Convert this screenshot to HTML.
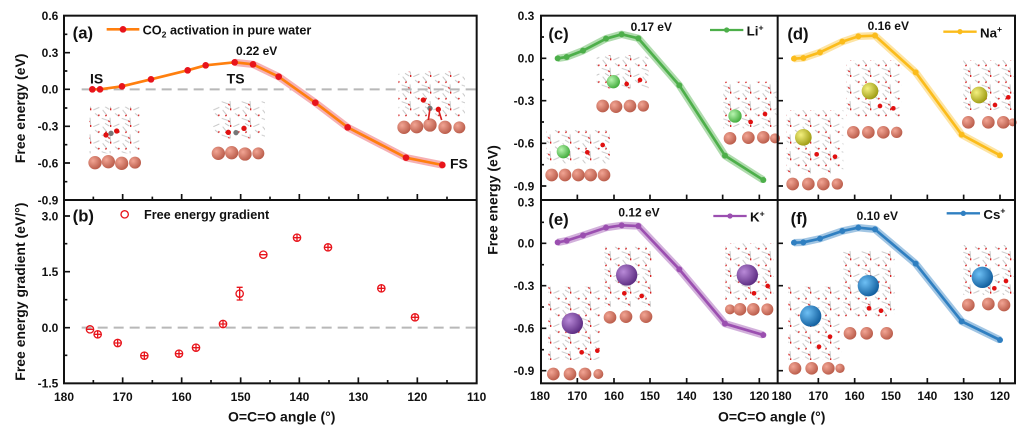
<!DOCTYPE html>
<html><head><meta charset="utf-8"><style>
html,body{margin:0;padding:0;background:#fff;}
svg{display:block;}
text{font-family:"Liberation Sans",Arial,sans-serif;font-weight:bold;fill:#111;}
</style></head><body>
<svg width="1028" height="433" viewBox="0 0 1028 433" xmlns="http://www.w3.org/2000/svg">
<defs>
<pattern id="w" width="60" height="50" patternUnits="userSpaceOnUse">
<path d="M5 5 L25 12 M30 3 L32 25 M40 30 L58 22 M8 30 L20 45 M45 40 L55 48 M15 20 L28 28" stroke="#c8c8c8" stroke-width="3"/>
<path d="M25 12 L29 16 M32 25 L32 31 M20 45 L16 48 M55 48 L58 44" stroke="#d62020" stroke-width="4"/>
</pattern>
<radialGradient id="cu" cx="35%" cy="35%" r="70%"><stop offset="0" stop-color="#f2a594"/><stop offset="1" stop-color="#b85a48"/></radialGradient>
<radialGradient id="li" cx="35%" cy="35%" r="70%"><stop offset="0" stop-color="#b8f5b0"/><stop offset="1" stop-color="#3faa3a"/></radialGradient>
<radialGradient id="na" cx="35%" cy="35%" r="70%"><stop offset="0" stop-color="#f4f080"/><stop offset="1" stop-color="#9c9a10"/></radialGradient>
<radialGradient id="k" cx="35%" cy="35%" r="70%"><stop offset="0" stop-color="#b98ad8"/><stop offset="1" stop-color="#5a2a80"/></radialGradient>
<radialGradient id="cs" cx="35%" cy="35%" r="70%"><stop offset="0" stop-color="#6ec0f5"/><stop offset="1" stop-color="#0f5c9c"/></radialGradient>
</defs>
<g transform="scale(0.333333)">
<!-- ============ LEFT PANELS ============ -->
<!-- insets a -->
<g>
<rect x="268" y="320" width="150" height="140" fill="url(#w)"/>
<g fill="url(#cu)"><circle cx="285" cy="488" r="20"/><circle cx="325" cy="485" r="20"/><circle cx="365" cy="490" r="20"/><circle cx="405" cy="488" r="18"/></g>
<circle cx="318" cy="405" r="8" fill="#e01010"/><circle cx="333" cy="400" r="8" fill="#777"/><circle cx="350" cy="393" r="8" fill="#e01010"/>
<rect x="635" y="300" width="160" height="115" fill="url(#w)"/>
<g fill="url(#cu)"><circle cx="655" cy="460" r="20"/><circle cx="695" cy="458" r="20"/><circle cx="735" cy="462" r="20"/><circle cx="775" cy="460" r="18"/></g>
<circle cx="685" cy="397" r="8" fill="#e01010"/><circle cx="708" cy="398" r="8" fill="#777"/><circle cx="732" cy="385" r="8" fill="#e01010"/>
<rect x="1195" y="215" width="200" height="135" fill="url(#w)"/>
<g fill="url(#cu)"><circle cx="1212" cy="382" r="20"/><circle cx="1250" cy="380" r="20"/><circle cx="1290" cy="375" r="20"/><circle cx="1335" cy="382" r="20"/><circle cx="1378" cy="382" r="18"/></g>
<circle cx="1270" cy="300" r="8" fill="#e01010"/><circle cx="1290" cy="325" r="8" fill="#777"/><circle cx="1315" cy="328" r="8" fill="#e01010"/>
<path d="M1290 325 L1285 360 M1315 328 L1325 360" stroke="#d62020" stroke-width="5"/>
</g>
<!-- zero dashed lines -->
<line x1="245" y1="268" x2="1430" y2="268" stroke="#b8b8b8" stroke-width="6" stroke-dasharray="30,18"/>
<line x1="245" y1="983" x2="1430" y2="983" stroke="#b8b8b8" stroke-width="6" stroke-dasharray="30,18"/>
<!-- curve a -->
<polyline fill="none" stroke="#f5b0b4" stroke-width="22" stroke-linejoin="round" points="704,187 759,193 836,230 946,308 1043,382 1218,473 1327,495"/>
<polyline fill="none" stroke="#ff7f0e" stroke-width="8" stroke-linejoin="round" points="277,268 300,268 366,259 453,238 563,211 617,196 704,187 759,193 836,230 946,308 1043,382 1218,473 1327,495"/>
<g fill="#e8141b"><circle cx="277" cy="268" r="10"/><circle cx="300" cy="268" r="10"/><circle cx="366" cy="259" r="10"/><circle cx="453" cy="238" r="10"/><circle cx="563" cy="211" r="10"/><circle cx="617" cy="196" r="10"/><circle cx="704" cy="187" r="10"/><circle cx="759" cy="193" r="10"/><circle cx="836" cy="230" r="10"/><circle cx="946" cy="308" r="10"/><circle cx="1043" cy="382" r="10"/><circle cx="1218" cy="473" r="10"/><circle cx="1327" cy="495" r="10"/></g>
<text x="270" y="250" font-size="42">IS</text>
<text x="680" y="250" font-size="42">TS</text>
<text x="1350" y="505" font-size="42">FS</text>
<text x="708" y="165" font-size="36">0.22 eV</text>
<text x="218" y="115" font-size="50">(a)</text>
<line x1="320" y1="88" x2="418" y2="88" stroke="#ff7f0e" stroke-width="8"/><circle cx="369" cy="88" r="10" fill="#e8141b"/>
<text x="428" y="103" font-size="38">CO<tspan font-size="26" dy="10">2</tspan><tspan dy="-10"> activation in pure water</tspan></text>
<!-- b markers -->
<g fill="none" stroke="#e8141b" stroke-width="4">
<g id="pts">
<circle cx="270" cy="988" r="11"/><circle cx="293" cy="1003" r="11"/><circle cx="353" cy="1029" r="11"/><circle cx="433" cy="1067" r="11"/><circle cx="537" cy="1061" r="11"/><circle cx="588" cy="1043" r="11"/><circle cx="669" cy="972" r="11"/><circle cx="719" cy="881" r="11"/><circle cx="790" cy="764" r="11"/><circle cx="891" cy="713" r="11"/><circle cx="984" cy="742" r="11"/><circle cx="1144" cy="865" r="11"/><circle cx="1245" cy="952" r="11"/>
</g>
<path d="M259 988h22M282 1003h22M342 1029h22M422 1067h22M526 1061h22M577 1043h22M658 972h22M779 764h22M880 713h22M973 742h22M1133 865h22M1234 952h22 M293 992v22M353 1018v22M433 1056v22M537 1050v22M588 1032v22M669 961v22M891 702v22M984 731v22M1144 854v22M1245 941v22 M719 862v38M710 862h18M710 900h18"/>
</g>
<text x="218" y="665" font-size="50">(b)</text>
<circle cx="374" cy="643" r="11" fill="none" stroke="#e8141b" stroke-width="4"/>
<text x="432" y="657" font-size="38">Free energy gradient</text>
<!-- frame left -->
<rect x="192" y="47" width="1238" height="1103" fill="none" stroke="#111" stroke-width="6"/>
<line x1="192" y1="600" x2="1430" y2="600" stroke="#111" stroke-width="6"/>
<g stroke="#111" stroke-width="5">
<path d="M192 158h18M192 268h18M192 379h18M192 489h18M192 103h10M192 213h10M192 324h10M192 434h10M192 545h10"/>
<path d="M192 648h18M192 815h18M192 983h18M192 731h10M192 899h10M192 1066h10"/>
<path d="M368 1150v-18M545 1150v-18M722 1150v-18M898 1150v-18M1075 1150v-18M1252 1150v-18 M280 1150v-10M457 1150v-10M633 1150v-10M810 1150v-10M987 1150v-10M1163 1150v-10M1341 1150v-10"/>
<path d="M368 600v-18M545 600v-18M722 600v-18M898 600v-18M1075 600v-18M1252 600v-18 M280 600v-10M457 600v-10M633 600v-10M810 600v-10M987 600v-10M1163 600v-10M1341 600v-10"/>
</g>
<g font-size="36" text-anchor="end">
<text x="175" y="60">0.6</text><text x="175" y="171">0.3</text><text x="175" y="281">0.0</text><text x="175" y="392">-0.3</text><text x="175" y="502">-0.6</text><text x="175" y="613">-0.9</text>
<text x="175" y="661">3.0</text><text x="175" y="828">1.5</text><text x="175" y="996">0.0</text><text x="175" y="1163">-1.5</text>
</g>
<g font-size="36" text-anchor="middle">
<text x="192" y="1203">180</text><text x="368" y="1203">170</text><text x="545" y="1203">160</text><text x="722" y="1203">150</text><text x="898" y="1203">140</text><text x="1075" y="1203">130</text><text x="1252" y="1203">120</text><text x="1430" y="1203">110</text>
</g>
<text x="845" y="1265" font-size="42" text-anchor="middle">O=C=O angle (°)</text>
<text transform="translate(75 325) rotate(-90)" font-size="42" text-anchor="middle">Free energy (eV)</text>
<text transform="translate(75 875) rotate(-90)" font-size="42" text-anchor="middle">Free energy gradient (eV/°)</text>

<!-- ============ RIGHT PANELS ============ -->
<g transform="translate(1500 0)">
<!-- insets -->
<g>
<rect x="290" y="165" width="155" height="100" fill="url(#w)"/><rect x="670" y="245" width="160" height="140" fill="url(#w)"/><rect x="140" y="390" width="190" height="100" fill="url(#w)"/>
<rect x="1040" y="180" width="165" height="170" fill="url(#w)"/><rect x="1390" y="180" width="155" height="150" fill="url(#w)"/><rect x="860" y="330" width="170" height="190" fill="url(#w)"/>
<rect x="313" y="740" width="147" height="180" fill="url(#w)"/><rect x="676" y="730" width="146" height="170" fill="url(#w)"/><rect x="145" y="860" width="158" height="220" fill="url(#w)"/>
<rect x="1030" y="750" width="155" height="200" fill="url(#w)"/><rect x="1390" y="735" width="155" height="150" fill="url(#w)"/><rect x="865" y="860" width="160" height="220" fill="url(#w)"/>
<g fill="url(#cu)">
<circle cx="308" cy="318" r="19"/><circle cx="348" cy="320" r="19"/><circle cx="390" cy="318" r="19"/><circle cx="430" cy="318" r="17"/>
<circle cx="690" cy="415" r="19"/><circle cx="745" cy="413" r="19"/><circle cx="790" cy="412" r="19"/><circle cx="825" cy="415" r="15"/>
<circle cx="155" cy="525" r="19"/><circle cx="195" cy="525" r="19"/><circle cx="235" cy="525" r="19"/><circle cx="272" cy="525" r="19"/><circle cx="312" cy="525" r="19"/>
<circle cx="1060" cy="397" r="19"/><circle cx="1105" cy="397" r="19"/><circle cx="1150" cy="397" r="19"/><circle cx="1190" cy="397" r="17"/>
<circle cx="1405" cy="367" r="19"/><circle cx="1465" cy="367" r="19"/><circle cx="1510" cy="367" r="19"/><circle cx="1538" cy="367" r="12"/>
<circle cx="878" cy="552" r="19"/><circle cx="925" cy="552" r="19"/><circle cx="970" cy="552" r="19"/><circle cx="1012" cy="552" r="17"/>
<circle cx="330" cy="952" r="19"/><circle cx="378" cy="950" r="19"/><circle cx="438" cy="950" r="19"/>
<circle cx="690" cy="928" r="15"/><circle cx="720" cy="928" r="19"/><circle cx="760" cy="928" r="19"/><circle cx="802" cy="928" r="18"/>
<circle cx="160" cy="1122" r="19"/><circle cx="210" cy="1122" r="19"/><circle cx="255" cy="1122" r="19"/><circle cx="295" cy="1122" r="15"/>
<circle cx="1050" cy="1000" r="19"/><circle cx="1100" cy="1000" r="19"/><circle cx="1160" cy="1000" r="19"/>
<circle cx="1405" cy="915" r="19"/><circle cx="1465" cy="912" r="19"/><circle cx="1512" cy="915" r="19"/>
<circle cx="885" cy="1105" r="19"/><circle cx="935" cy="1105" r="19"/><circle cx="985" cy="1105" r="19"/><circle cx="1020" cy="1105" r="14"/>
</g>
<g fill="url(#li)"><circle cx="340" cy="245" r="20"/><circle cx="705" cy="348" r="20"/><circle cx="190" cy="455" r="20"/></g>
<g fill="url(#na)"><circle cx="1110" cy="273" r="25"/><circle cx="1437" cy="285" r="25"/><circle cx="910" cy="412" r="25"/></g>
<g fill="url(#k)"><circle cx="380" cy="825" r="32"/><circle cx="742" cy="825" r="32"/><circle cx="217" cy="970" r="32"/></g>
<g fill="url(#cs)"><circle cx="1105" cy="857" r="32"/><circle cx="1447" cy="832" r="32"/><circle cx="932" cy="948" r="32"/></g>
<g fill="#e01010"><circle cx="380" cy="252" r="7"/><circle cx="420" cy="240" r="7"/><circle cx="262" cy="457" r="7"/><circle cx="308" cy="435" r="7"/><circle cx="752" cy="366" r="7"/><circle cx="795" cy="342" r="7"/><circle cx="1140" cy="318" r="7"/><circle cx="1180" cy="325" r="7"/><circle cx="950" cy="463" r="7"/><circle cx="1005" cy="470" r="7"/><circle cx="1485" cy="315" r="7"/><circle cx="1525" cy="292" r="7"/><circle cx="373" cy="880" r="7"/><circle cx="425" cy="888" r="7"/><circle cx="762" cy="880" r="7"/><circle cx="803" cy="858" r="7"/><circle cx="245" cy="1057" r="7"/><circle cx="292" cy="1052" r="7"/><circle cx="1107" cy="925" r="7"/><circle cx="1143" cy="932" r="7"/><circle cx="1483" cy="865" r="7"/><circle cx="1518" cy="843" r="7"/><circle cx="957" cy="1040" r="7"/><circle cx="990" cy="1010" r="7"/></g>
</g>
<!-- curves -->
<g fill="none" stroke-linejoin="round">
<polyline stroke="#4daf4a" stroke-opacity="0.45" stroke-width="22" points="173,175 200,171 249,152 318,116 365,103 415,115 538,256 675,467 790,540"/>
<polyline stroke="#4daf4a" stroke-width="8" points="173,175 200,171 249,152 318,116 365,103 415,115 538,256 675,467 790,540"/>
<polyline stroke="#fbbc1b" stroke-opacity="0.4" stroke-width="22" points="882,176 910,174 960,157 1027,125 1075,109 1125,107 1247,217 1385,404 1500,466"/>
<polyline stroke="#fbbc1b" stroke-width="8" points="882,176 910,174 960,157 1027,125 1075,109 1125,107 1247,217 1385,404 1500,466"/>
<polyline stroke="#9b4fb0" stroke-opacity="0.45" stroke-width="22" points="173,727 200,722 249,706 318,683 365,676 415,678 538,808 675,971 790,1005"/>
<polyline stroke="#9b4fb0" stroke-width="8" points="173,727 200,722 249,706 318,683 365,676 415,678 538,808 675,971 790,1005"/>
<polyline stroke="#2f7fc1" stroke-opacity="0.45" stroke-width="22" points="882,728 910,727 960,716 1027,693 1075,683 1125,688 1247,791 1385,964 1500,1020"/>
<polyline stroke="#2f7fc1" stroke-width="8" points="882,728 910,727 960,716 1027,693 1075,683 1125,688 1247,791 1385,964 1500,1020"/>
</g>
<g fill="#4daf4a"><circle cx="173" cy="175" r="9"/><circle cx="200" cy="171" r="9"/><circle cx="249" cy="152" r="9"/><circle cx="318" cy="116" r="9"/><circle cx="365" cy="103" r="9"/><circle cx="415" cy="115" r="9"/><circle cx="538" cy="256" r="9"/><circle cx="675" cy="467" r="9"/><circle cx="790" cy="540" r="9"/></g>
<g fill="#fbbc1b"><circle cx="882" cy="176" r="9"/><circle cx="910" cy="174" r="9"/><circle cx="960" cy="157" r="9"/><circle cx="1027" cy="125" r="9"/><circle cx="1075" cy="109" r="9"/><circle cx="1125" cy="107" r="9"/><circle cx="1247" cy="217" r="9"/><circle cx="1385" cy="404" r="9"/><circle cx="1500" cy="466" r="9"/></g>
<g fill="#9b4fb0"><circle cx="173" cy="727" r="9"/><circle cx="200" cy="722" r="9"/><circle cx="249" cy="706" r="9"/><circle cx="318" cy="683" r="9"/><circle cx="365" cy="676" r="9"/><circle cx="415" cy="678" r="9"/><circle cx="538" cy="808" r="9"/><circle cx="675" cy="971" r="9"/><circle cx="790" cy="1005" r="9"/></g>
<g fill="#2f7fc1"><circle cx="882" cy="728" r="9"/><circle cx="910" cy="727" r="9"/><circle cx="960" cy="716" r="9"/><circle cx="1027" cy="693" r="9"/><circle cx="1075" cy="683" r="9"/><circle cx="1125" cy="688" r="9"/><circle cx="1247" cy="791" r="9"/><circle cx="1385" cy="964" r="9"/><circle cx="1500" cy="1020" r="9"/></g>
<!-- labels -->
<g font-size="50"><text x="145" y="118">(c)</text><text x="862" y="118">(d)</text><text x="145" y="675">(e)</text><text x="872" y="672">(f)</text></g>
<g font-size="36"><text x="392" y="93">0.17 eV</text><text x="1103" y="90">0.16 eV</text><text x="355" y="650">0.12 eV</text><text x="1070" y="660">0.10 eV</text></g>
<line x1="630" y1="90" x2="730" y2="90" stroke="#4daf4a" stroke-width="7"/><circle cx="680" cy="90" r="8" fill="#4daf4a"/>
<text x="740" y="107" font-size="40">Li<tspan font-size="26" dy="-16">+</tspan></text>
<line x1="1330" y1="95" x2="1430" y2="95" stroke="#fbbc1b" stroke-width="7"/><circle cx="1380" cy="95" r="8" fill="#fbbc1b"/>
<text x="1440" y="112" font-size="40">Na<tspan font-size="26" dy="-16">+</tspan></text>
<line x1="640" y1="648" x2="740" y2="648" stroke="#9b4fb0" stroke-width="7"/><circle cx="690" cy="648" r="8" fill="#9b4fb0"/>
<text x="750" y="665" font-size="40">K<tspan font-size="26" dy="-16">+</tspan></text>
<line x1="1340" y1="640" x2="1440" y2="640" stroke="#2f7fc1" stroke-width="7"/><circle cx="1390" cy="640" r="8" fill="#2f7fc1"/>
<text x="1450" y="657" font-size="40">Cs<tspan font-size="26" dy="-16">+</tspan></text>
<!-- frames -->
<g fill="none" stroke="#111" stroke-width="6">
<rect x="123" y="47" width="1422" height="1103"/>
<line x1="833" y1="47" x2="833" y2="1150"/>
<line x1="123" y1="600" x2="1545" y2="600"/>
</g>
<g stroke="#111" stroke-width="5">
<path d="M123 175h16M123 302h16M123 430h16M123 558h16M123 111h9M123 239h9M123 366h9M123 494h9"/>
<path d="M123 730h16M123 857h16M123 985h16M123 1112h16M123 667h9M123 794h9M123 921h9M123 1049h9"/>
<path d="M833 175h16M833 302h16M833 430h16M833 558h16M833 730h16M833 857h16M833 985h16M833 1112h16"/>
<path d="M232 1150v-16M342 1150v-16M450 1150v-16M560 1150v-16M668 1150v-16M778 1150v-16 M955 1150v-16M1064 1150v-16M1173 1150v-16M1282 1150v-16M1391 1150v-16M1500 1150v-16"/>
<path d="M232 600v-16M342 600v-16M450 600v-16M560 600v-16M668 600v-16M778 600v-16 M955 600v-16M1064 600v-16M1173 600v-16M1282 600v-16M1391 600v-16M1500 600v-16"/>
</g>
<g font-size="36" text-anchor="end">
<text x="103" y="60">0.3</text><text x="103" y="188">0.0</text><text x="103" y="315">-0.3</text><text x="103" y="443">-0.6</text><text x="103" y="571">-0.9</text>
<text x="103" y="620">0.3</text><text x="103" y="743">0.0</text><text x="103" y="870">-0.3</text><text x="103" y="998">-0.6</text><text x="103" y="1125">-0.9</text>
</g>
<g font-size="36" text-anchor="middle">
<text x="120" y="1200">180</text><text x="232" y="1200">170</text><text x="342" y="1200">160</text><text x="450" y="1200">150</text><text x="560" y="1200">140</text><text x="668" y="1200">130</text><text x="778" y="1200">120</text>
<text x="845" y="1200">180</text><text x="955" y="1200">170</text><text x="1064" y="1200">160</text><text x="1173" y="1200">150</text><text x="1282" y="1200">140</text><text x="1391" y="1200">130</text><text x="1500" y="1200">120</text>
</g>
<text x="815" y="1265" font-size="42" text-anchor="middle">O=C=O angle (°)</text>
<text transform="translate(-7 600) rotate(-90)" font-size="42" text-anchor="middle">Free energy (eV)</text>
</g>
</g>
</svg>
</body></html>
